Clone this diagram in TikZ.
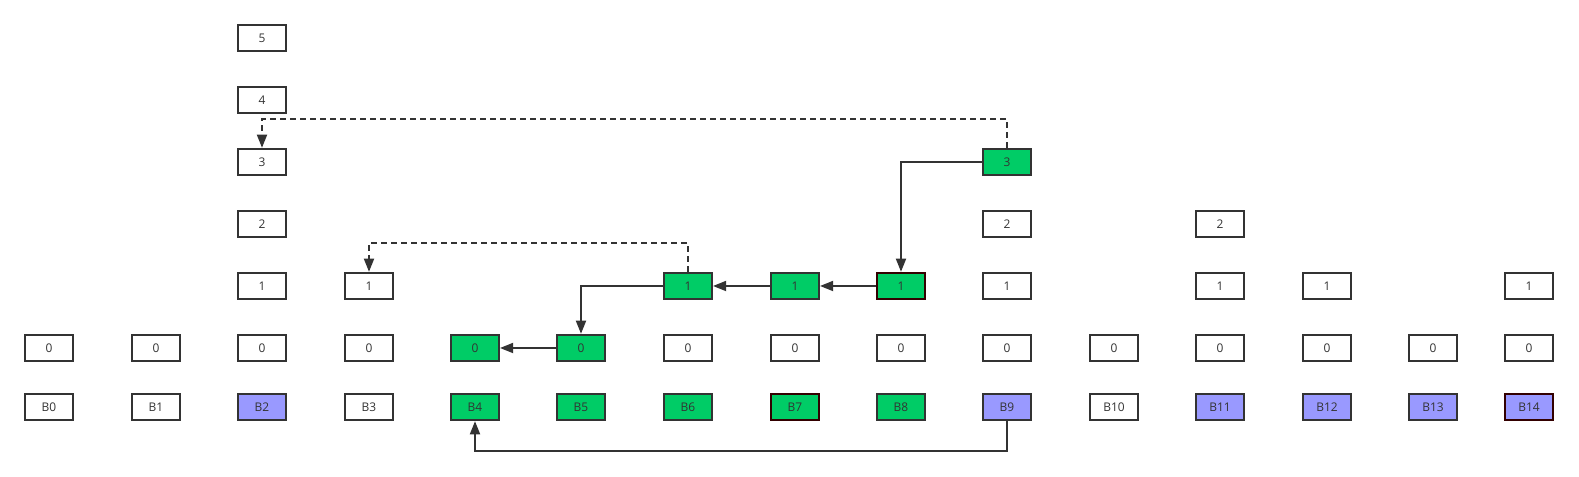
\documentclass[tikz,border=0pt]{standalone}
\usepackage{fontspec}
\setmainfont{Open Sans}
\usetikzlibrary{arrows.meta}
\definecolor{edge}{HTML}{333333}
\definecolor{maroon}{HTML}{330000}
\definecolor{hit}{HTML}{00CC66}
\definecolor{free}{HTML}{9999FF}

\begin{document}
\begin{tikzpicture}[
    x=0.025cm, y=-0.025cm,
    box/.style={rectangle, draw=edge, line width=1.4pt, fill=white,
                minimum width=1.2cm, minimum height=0.66cm, inner sep=0pt,
                text=edge, font=\fontsize{8.5}{10}\selectfont},
    green/.style={fill=hit},
    blue/.style={fill=free},
    plain/.style={},
    greenred/.style={fill=hit, draw=maroon},
    bluered/.style={fill=free, draw=maroon},
    arrow/.style={-{Triangle[length=0.33cm, width=0.25cm]}, line width=1.4pt, color=edge},
    dashline/.style={dash pattern=on 0.15cm off 0.1cm}
  ]
    \useasboundingbox (0,0) rectangle (1579,477);

    % block row and level 0
    \foreach \i/\x/\s/\t in {0/49/plain/plain, 1/156/plain/plain, 2/262/blue/plain,
        3/369/plain/plain, 4/475/green/green, 5/581/green/green, 6/688/green/plain,
        7/795/greenred/plain, 8/901/green/plain, 9/1007/blue/plain,
        10/1114/plain/plain, 11/1220/blue/plain, 12/1327/blue/plain,
        13/1433/blue/plain, 14/1529/bluered/plain} {
      \node[box, \s] (b\i) at (\x,407) {B\i};
      \node[box, \t] (n\i-0) at (\x,348) {0};
    }

    % level 1
    \foreach \i/\x/\s in {2/262/plain, 3/369/plain, 6/688/green, 7/795/green,
        8/901/greenred, 9/1007/plain, 11/1220/plain, 12/1327/plain, 14/1529/plain}
      \node[box, \s] (n\i-1) at (\x,286) {1};

    % higher levels
    \node[box] (n2-2) at (262,224) {2};
    \node[box] (n9-2) at (1007,224) {2};
    \node[box] (n11-2) at (1220,224) {2};
    \node[box] (n2-3) at (262,162) {3};
    \node[box, green] (n9-3) at (1007,162) {3};
    \node[box] (n2-4) at (262,100) {4};
    \node[box] (n2-5) at (262,38) {5};

    % split chain
    \draw[arrow] (n9-3.west) -| (n8-1.north);
    \draw[arrow] (n8-1) -- (n7-1);
    \draw[arrow] (n7-1) -- (n6-1);
    \draw[arrow] (n6-1.west) -| (n5-0.north);
    \draw[arrow] (n5-0) -- (n4-0);
    \draw[arrow] (b9.south) -- ++(0,30) -| (b4.south);

    % buddies
    \draw[arrow, dashline] (n9-3.north) -- ++(0,-29) -| (n2-3.north);
    \draw[arrow, dashline] (n6-1.north) -- ++(0,-29) -| (n3-1.north);
  \end{tikzpicture}
\end{document}
